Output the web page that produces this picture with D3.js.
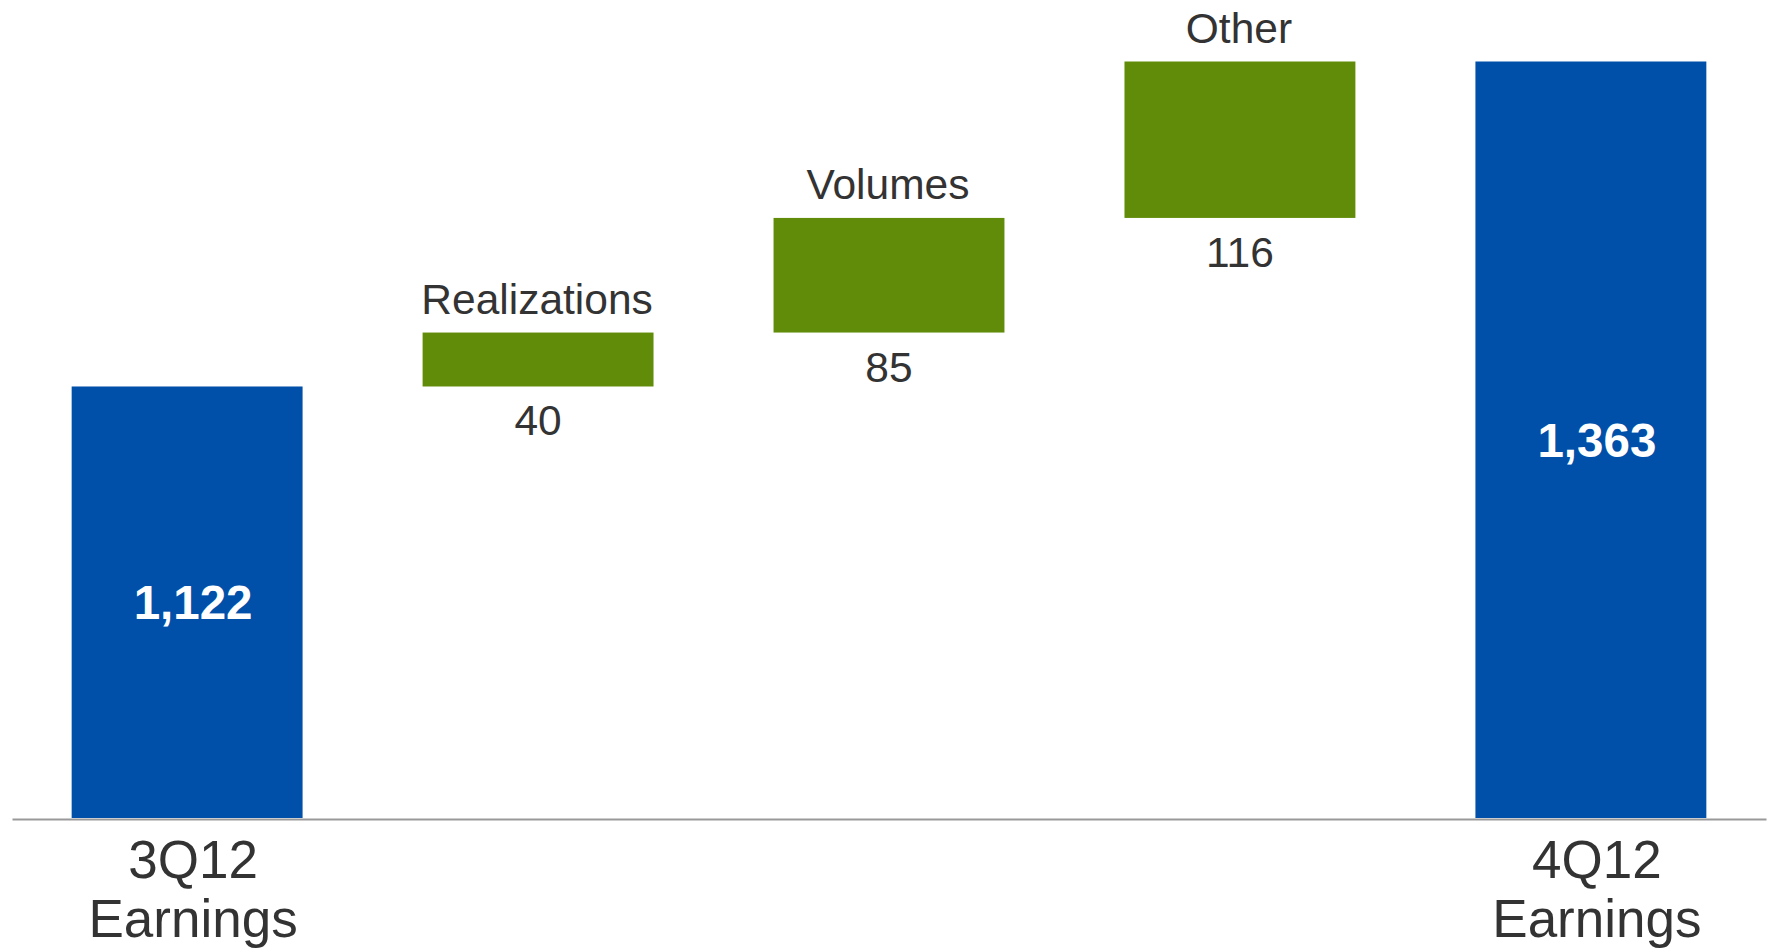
<!DOCTYPE html>
<html>
<head>
<meta charset="utf-8">
<script src="https://cdn.jsdelivr.net/npm/d3@7"></script>
<style>
  html, body { margin: 0; padding: 0; background: #fff; }
  svg { display: block; }
  text { font-family: "Liberation Sans", Arial, sans-serif; }
</style>
</head>
<body>
<svg id="chart" width="1772" height="949"></svg>
<script>
// Earnings bridge, 3Q12 to 4Q12
const categories = ["3Q12 Earnings", "Realizations", "Volumes", "Other", "4Q12 Earnings"];
const labelLines = [["3Q12", "Earnings"], ["Realizations"], ["Volumes"], ["Other"], ["4Q12", "Earnings"]];
const kinds = ["total", "delta", "delta", "delta", "total"];
const values = [1122, 40, 85, 116, 1363];
const axisMin = 802;

const svg = d3.select("#chart");
const baseY = 818;

// running start/end for each step
let run = 0;
const steps = categories.map((c, i) => {
  let y0, y1;
  if (kinds[i] === "total") { y0 = axisMin; y1 = values[i]; run = values[i]; }
  else { y0 = run; y1 = run + values[i]; run = y1; }
  return { cat: c, lines: labelLines[i], kind: kinds[i], value: values[i], y0, y1 };
});

const x = d3.scaleBand()
  .domain(categories)
  .range([12, 1766])
  .paddingInner(0.342)
  .paddingOuter(0.17);

const y = d3.scaleLinear()
  .domain([axisMin, 1363])
  .range([baseY, 61.5]);

const blue = "#0050AA";
const green = "#618C09";
const textColor = "#333333";

// bars
svg.append("g").selectAll("rect")
  .data(steps)
  .join("rect")
  .attr("x", d => x(d.cat))
  .attr("width", x.bandwidth())
  .attr("y", d => y(Math.max(d.y0, d.y1)))
  .attr("height", d => Math.abs(y(d.y0) - y(d.y1)))
  .attr("fill", d => d.kind === "total" ? blue : green);

// baseline axis
const axis = svg.append("g")
  .attr("transform", `translate(0,${baseY + 1})`)
  .call(d3.axisBottom(x).tickSize(0).tickFormat(""));
axis.select(".domain").attr("stroke", "#999").attr("stroke-width", 2);

const fmt = d3.format(",");

// totals: white bold value inside the bar
const totals = steps.filter(d => d.kind === "total");
svg.append("g").selectAll("text")
  .data(totals)
  .join("text")
  .attr("x", d => x(d.cat) + x.bandwidth() / 2 + 6)
  .attr("y", d => (y(d.y0) + y(d.y1)) / 2 + 17)
  .attr("text-anchor", "middle")
  .attr("font-size", 47.5)
  .attr("font-weight", "bold")
  .attr("fill", "#fff")
  .text(d => fmt(d.value));

// totals: category label under the axis
const tl = svg.append("g").selectAll("text")
  .data(totals)
  .join("text")
  .attr("text-anchor", "middle")
  .attr("font-size", 53)
  .attr("fill", textColor);
tl.selectAll("tspan")
  .data(d => d.lines.map((l, k) => ({ l, k, cx: x(d.cat) + x.bandwidth() / 2 + 6 })))
  .join("tspan")
  .attr("x", d => d.cx)
  .attr("y", d => 878 + d.k * 59)
  .text(d => d.l);

// deltas: name above, value below
const deltas = steps.filter(d => d.kind === "delta");
svg.append("g").selectAll("text")
  .data(deltas)
  .join("text")
  .attr("x", d => x(d.cat) + x.bandwidth() / 2 - 1)
  .attr("y", d => y(d.y1) - 19)
  .attr("text-anchor", "middle")
  .attr("font-size", 42.5)
  .attr("fill", textColor)
  .text(d => d.lines[0]);

svg.append("g").selectAll("text")
  .data(deltas)
  .join("text")
  .attr("x", d => x(d.cat) + x.bandwidth() / 2)
  .attr("y", d => y(d.y0) + 49)
  .attr("text-anchor", "middle")
  .attr("font-size", 42.5)
  .attr("fill", textColor)
  .text(d => fmt(d.value));
</script>
</body>
</html>
